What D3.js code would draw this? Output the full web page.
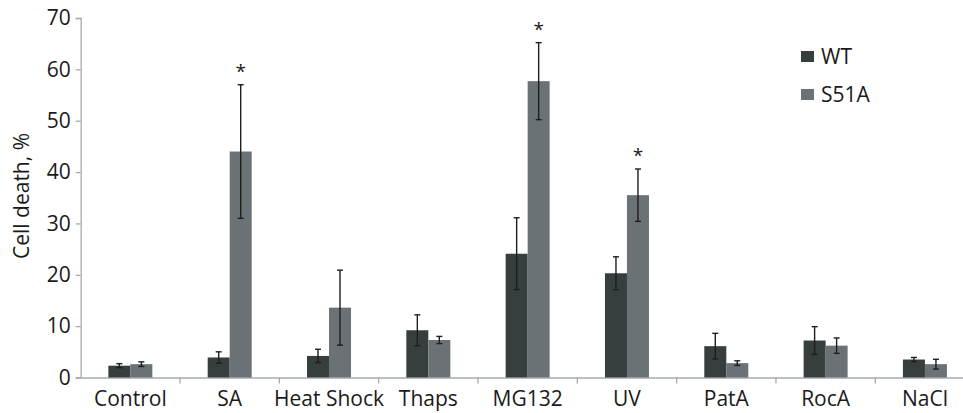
<!DOCTYPE html>
<html>
<head>
<meta charset="utf-8">
<script src="https://cdn.jsdelivr.net/npm/d3@7"></script>
<style>
  body { margin: 0; background: #fff; }
  svg text { font-family: "Open Sans", "DejaVu Sans", sans-serif; fill: #1a1a1a; }
</style>
</head>
<body>
<div id="chart"></div>
<script>
// dados
const categories = ["Control", "SA", "Heat Shock", "Thaps", "MG132", "UV", "PatA", "RocA", "NaCl"];
const seriesNames = ["WT", "S51A"];
const wtValues = [2.3, 3.9, 4.2, 9.2, 24.1, 20.3, 6.1, 7.2, 3.5];
const wtErrors = [0.4, 1.1, 1.3, 3.0, 7.0, 3.2, 2.5, 2.7, 0.4];
const s51aValues = [2.6, 44.0, 13.6, 7.3, 57.7, 35.5, 2.8, 6.2, 2.6];
const s51aErrors = [0.45, 13.0, 7.3, 0.7, 7.5, 5.1, 0.45, 1.5, 0.95];
const significant = ["SA", "MG132", "UV"];
const yTicks = [0, 10, 20, 30, 40, 50, 60, 70];

const width = 963;
const height = 413;
const colors = { WT: "#363f3d", S51A: "#6b7275" };
const axisColor = "#a3abb3";
const fontSize = 21;

const svg = d3.select("#chart")
  .append("svg")
  .attr("width", width)
  .attr("height", height);

// escalas (o eixo x passa da borda direita, como no original recortado)
const x = d3.scaleBand().domain(categories).range([80.7, 974.6]);
const x1 = d3.scaleBand().domain(seriesNames).range([x.bandwidth() / 2 - 22, x.bandwidth() / 2 + 22]);
const y = d3.scaleLinear().domain([0, 70]).range([377.5, 18]);

const rows = categories.map((c, i) => ({
  cat: c,
  values: [
    { key: "WT", v: wtValues[i], e: wtErrors[i] },
    { key: "S51A", v: s51aValues[i], e: s51aErrors[i] }
  ]
}));

// eixo y
const yAxis = svg.append("g")
  .attr("transform", "translate(80.7,0)")
  .call(d3.axisLeft(y).tickValues(yTicks).tickSize(5).tickPadding(5));
yAxis.select(".domain").attr("stroke", axisColor).attr("stroke-width", 1.3);
yAxis.selectAll(".tick line").attr("stroke", axisColor).attr("stroke-width", 1.3);
yAxis.selectAll(".tick text").attr("font-size", fontSize).attr("fill", "#1a1a1a")
  .style("font-family", "'Open Sans', sans-serif");

// eixo x
const xAxis = svg.append("g")
  .attr("transform", `translate(0,${y(0)})`)
  .call(d3.axisBottom(x).tickSize(0).tickPadding(14));
xAxis.select(".domain").attr("stroke", axisColor).attr("stroke-width", 1.3);
xAxis.selectAll(".tick text").attr("font-size", fontSize).attr("fill", "#1a1a1a")
  .style("font-family", "'Open Sans', sans-serif");

// marcas entre categorias
svg.append("g")
  .selectAll("line")
  .data(categories.slice(1))
  .join("line")
  .attr("x1", (d) => x(d))
  .attr("x2", (d) => x(d))
  .attr("y1", y(0))
  .attr("y2", y(0) + 6)
  .attr("stroke", axisColor)
  .attr("stroke-width", 1.3);

// barras
const groups = svg.append("g")
  .selectAll("g")
  .data(rows)
  .join("g")
  .attr("transform", (d) => `translate(${x(d.cat)},0)`);

groups.selectAll("rect")
  .data((d) => d.values)
  .join("rect")
  .attr("x", (d) => x1(d.key))
  .attr("y", (d) => y(d.v))
  .attr("width", x1.bandwidth())
  .attr("height", (d) => y(0) - y(d.v))
  .attr("fill", (d) => colors[d.key]);

// barras de erro
const err = groups.selectAll("g.err")
  .data((d) => d.values)
  .join("g")
  .attr("class", "err")
  .attr("stroke", "#1e1e1e")
  .attr("stroke-width", 1.4);

err.append("line")
  .attr("x1", (d) => x1(d.key) + x1.bandwidth() / 2)
  .attr("x2", (d) => x1(d.key) + x1.bandwidth() / 2)
  .attr("y1", (d) => y(d.v + d.e))
  .attr("y2", (d) => y(Math.max(0, d.v - d.e)));

[1, -1].forEach((s) => {
  err.append("line")
    .attr("x1", (d) => x1(d.key) + x1.bandwidth() / 2 - 3)
    .attr("x2", (d) => x1(d.key) + x1.bandwidth() / 2 + 3)
    .attr("y1", (d) => y(d.v + s * d.e))
    .attr("y2", (d) => y(d.v + s * d.e));
});

// asteriscos
groups.filter((d) => significant.includes(d.cat))
  .append("text")
  .attr("x", x1("S51A") + x1.bandwidth() / 2)
  .attr("y", (d) => y(d.values[1].v + d.values[1].e) - 7)
  .attr("text-anchor", "middle")
  .attr("font-size", 19)
  .text("*");

// titulo do eixo y
svg.append("text")
  .attr("transform", "translate(29,196) rotate(-90)")
  .attr("text-anchor", "middle")
  .attr("font-size", fontSize)
  .text("Cell death, %");

// legenda
const legend = svg.append("g")
  .selectAll("g")
  .data(seriesNames)
  .join("g")
  .attr("transform", (d, i) => `translate(801,${51 + i * 38})`);

legend.append("rect")
  .attr("width", 13)
  .attr("height", 11)
  .attr("fill", (d) => colors[d]);

legend.append("text")
  .attr("x", 20)
  .attr("y", 6)
  .attr("dy", "0.35em")
  .attr("font-size", fontSize)
  .text((d) => d);
</script>
</body>
</html>
